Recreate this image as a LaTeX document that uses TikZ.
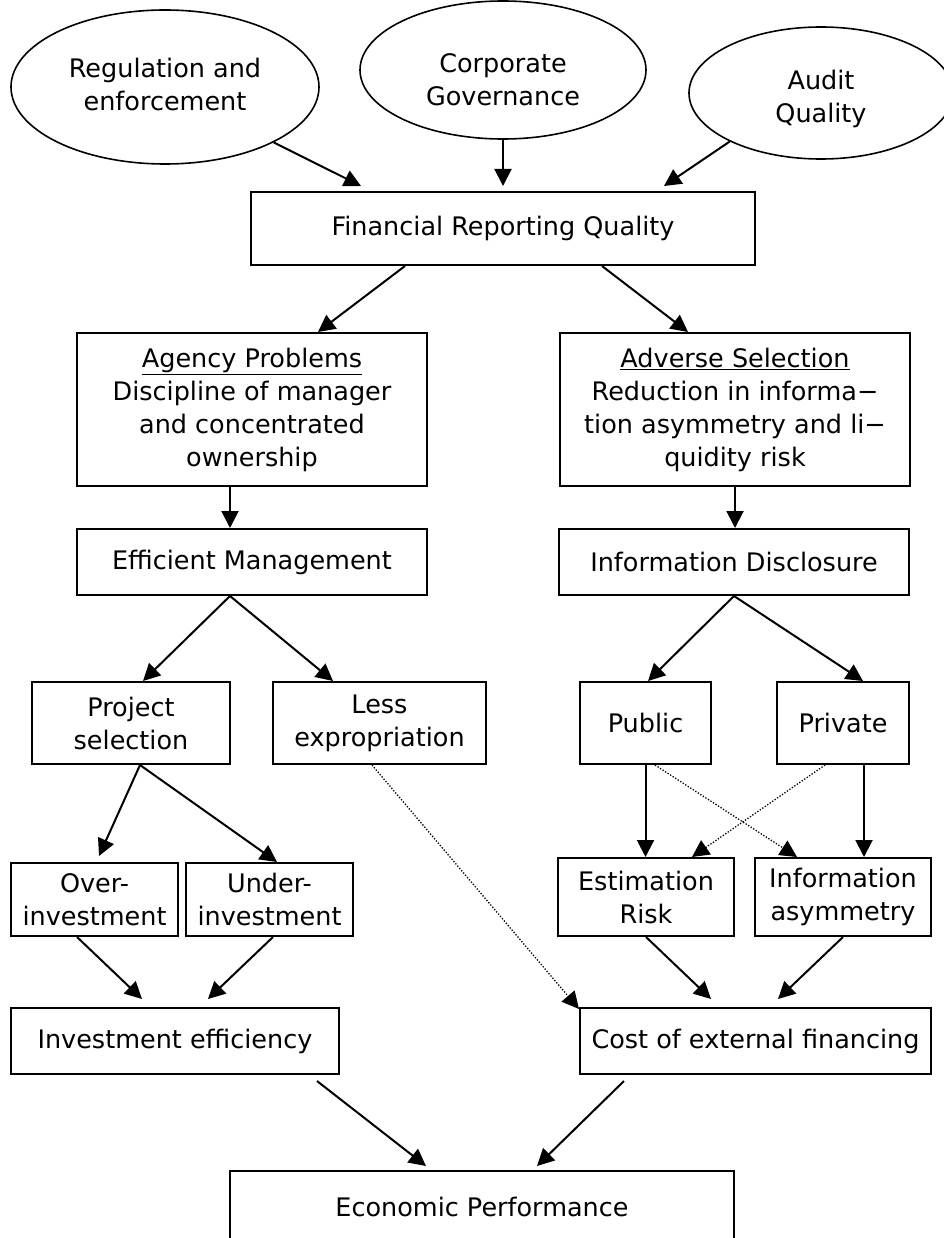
\documentclass[tikz,border=0pt]{standalone}
\usepackage{fontspec}
\setmainfont{DejaVu Sans}
\usetikzlibrary{shapes.geometric,arrows.meta}

\tikzset{
  box/.style={draw, line width=2pt, rectangle, inner sep=0pt, align=center,
    font=\fontsize{25.5}{33}\selectfont},
  oval/.style={draw, line width=1.6pt, ellipse, inner sep=0pt},
  ovaltext/.style={align=center, font=\fontsize{25.5}{33}\selectfont},
  link/.style={line width=2pt, -{Triangle[length=17pt,width=17pt]}},
  dotlink/.style={line width=1.3pt, dash pattern=on 1.3pt off 1.7pt,
    -{Triangle[length=17pt,width=17pt]}}
}

\begin{document}
\begin{tikzpicture}[x=1pt, y=-1pt] %reporting quality chart
\useasboundingbox (0,0) rectangle (943,1238);

	%the three sources on top
\node [oval, minimum width=308pt, minimum height=154pt,
  label={[ovaltext, yshift=3pt]center:Regulation and\\enforcement}] (reg) at (165,87) {};
\node [oval, minimum width=286pt, minimum height=138pt,
  label={[ovaltext, yshift=-10pt]center:Corporate\\Governance}] (corp) at (503,70) {};
\node [oval, minimum width=264pt, minimum height=132pt,
  label={[ovaltext, yshift=-6pt]center:Audit\\Quality}] (audit) at (821,93) {};

\node [box, minimum width=504pt, minimum height=73pt] (frq) at (503,228.5) {Financial Reporting Quality};

	%left branch
\node [box, minimum width=350pt, minimum height=153pt] (agency) at (252,409.5)
  {\underline{Agency Problems}\\Discipline of manager\\and concentrated\\ownership};
\node [box, minimum width=350pt, minimum height=66pt] (effm) at (252,562) {Efficient Management};
\node [box, minimum width=198pt, minimum height=82pt] (proj) at (131,723) {Project\\selection};
\node [box, minimum width=213pt, minimum height=82pt] (less) at (379.5,723) {Less\\expropriation};
\node [box, minimum width=167pt, minimum height=73pt] (over) at (94.5,899.5) {Over-\\investment};
\node [box, minimum width=167pt, minimum height=73pt] (under) at (269.5,899.5) {Under-\\investment};
\node [box, minimum width=328pt, minimum height=66pt] (inveff) at (175,1041) {Investment efficiency};

	%right branch
\node [box, minimum width=350pt, minimum height=153pt] (adverse) at (735,409.5)
  {\underline{Adverse Selection}\\Reduction in informa−\\tion asymmetry and li−\\quidity risk};
\node [box, minimum width=350pt, minimum height=66pt] (infod) at (734,562) {Information Disclosure};
\node [box, minimum width=131pt, minimum height=82pt] (public) at (645.5,723) {Public};
\node [box, minimum width=132pt, minimum height=82pt] (private) at (843,723) {Private};
\node [box, minimum width=176pt, minimum height=78pt] (estim) at (646,897) {Estimation\\Risk};
\node [box, minimum width=176pt, minimum height=78pt] (infoa) at (843,897) {Information\\asymmetry};
\node [box, minimum width=351pt, minimum height=66pt] (cost) at (755.5,1041) {Cost of external financing};

\node [box, minimum width=504pt, minimum height=72pt] (econ) at (482,1207) {Economic Performance};

	%arrows into reporting quality
\draw [link] (reg.-27) -- ([xshift=-142pt,yshift=5pt]frq.north);
\draw [link] (corp.south) -- ([yshift=5pt]frq.north);
\draw [link] (audit.208) -- ([xshift=161pt,yshift=5pt]frq.north);

\draw [link] ([xshift=-98pt]frq.south) -- ([xshift=66pt]agency.north);
\draw [link] ([xshift=99pt]frq.south) -- ([xshift=-47pt]adverse.north);

	%left side arrows
\draw [link] ([xshift=-22pt]agency.south) -- ([xshift=-22pt]effm.north);
\draw [link] ([xshift=-22pt]effm.south) -- ([xshift=12pt]proj.north);
\draw [link] ([xshift=-22pt]effm.south) -- ([xshift=-46.5pt]less.north);
\draw [link] ([xshift=9pt]proj.south) -- ([xshift=4.5pt,yshift=6pt]over.north);
\draw [link] ([xshift=9pt]proj.south) -- ([xshift=7.5pt]under.north);
\draw [link] ([xshift=-17.5pt]over.south) -- ([xshift=-33pt,yshift=8pt]inveff.north);
\draw [link] ([xshift=3.5pt]under.south) -- ([xshift=33pt,yshift=8pt]inveff.north);

	%right side arrows
\draw [link] (adverse.south) -- (adverse.south |- infod.north);
\draw [link] (infod.south) -- ([xshift=2.5pt]public.north);
\draw [link] (infod.south) -- ([xshift=20pt]private.north);
\draw [link] (public.south) -- (public.south |- estim.north);
\draw [link] ([xshift=21pt]private.south) -- ([xshift=21pt]infoa.north);
\draw [dotlink] ([xshift=9.5pt]public.south) -- ([xshift=-46pt]infoa.north);
\draw [dotlink] ([xshift=-18pt]private.south) -- ([xshift=46pt]estim.north);
\draw [link] (estim.south) -- ([xshift=-44.5pt,yshift=8pt]cost.north);
\draw [link] (infoa.south) -- ([xshift=22.5pt,yshift=8pt]cost.north);

	%cross link and bottom
\draw [dotlink] ([xshift=-7.5pt]less.south) -- ([yshift=-2pt]cost.north west);
\draw [link] ([xshift=142pt,yshift=-6pt]inveff.south) -- ([xshift=-56pt,yshift=4pt]econ.north);
\draw [link] ([xshift=-131.5pt,yshift=-6pt]cost.south) -- ([xshift=55pt,yshift=4pt]econ.north);

\end{tikzpicture}
\end{document}
